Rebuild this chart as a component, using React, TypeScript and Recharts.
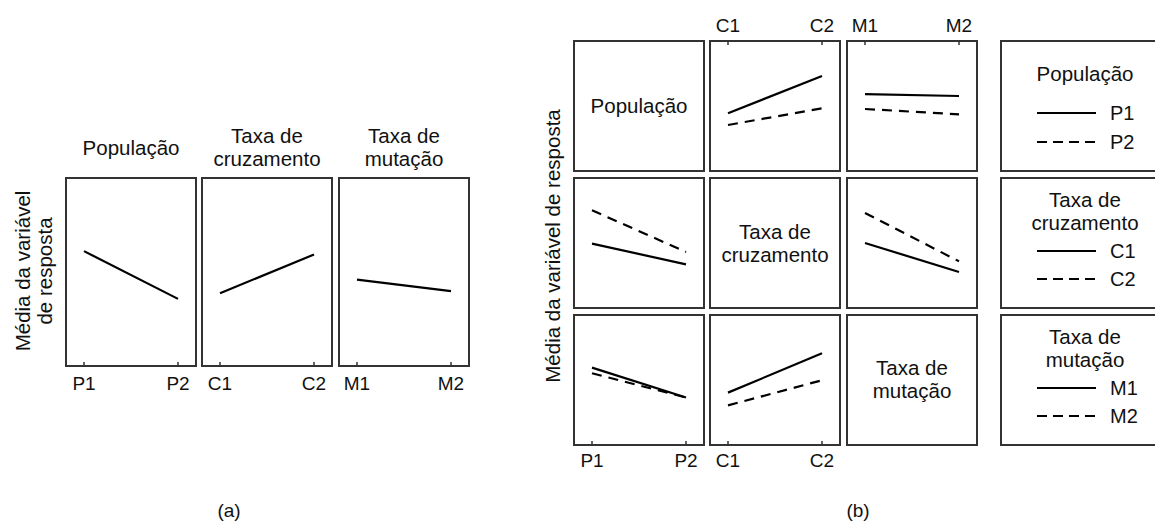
import React from 'react';
import { LineChart, Line, XAxis, YAxis } from 'recharts';

// ---------- data ----------
const popLevels = ['P1', 'P2'];
const crossLevels = ['C1', 'C2'];
const mutLevels = ['M1', 'M2'];

// (a) main effects
const mainPop = [61.1, 35.7];
const mainCross = [38.7, 59.3];
const mainMut = [45.9, 39.8];

// (b) interactions  (row = trace factor, column = x factor)
const crossByPop_P1 = [44.4, 73.1];
const crossByPop_P2 = [35.4, 48.2];
const mutByPop_P1 = [59.2, 57.7];
const mutByPop_P2 = [47.7, 43.6];
const popByCross_C1 = [49.5, 33.6];
const popByCross_C2 = [75.2, 43.1];
const mutByCross_C1 = [50.0, 27.7];
const mutByCross_C2 = [73.1, 35.9];
const popByMut_M1 = [59.5, 36.5];
const popByMut_M2 = [55.2, 36.5];
const crossByMut_M1 = [40.3, 70.5];
const crossByMut_M2 = [30.5, 49.8];

const titlePop = ['População'];
const titleCross = ['Taxa de', 'cruzamento'];
const titleMut = ['Taxa de', 'mutação'];
const yLabel = 'Média da variável de resposta';

// ---------- style ----------
const FONT = '"Liberation Sans", Arial, Helvetica, sans-serif';
const INK = '#111';
const FRAME = '#333';
const TITLE_SIZE = 20.5;

type CellProps = {
  left: number; top: number; w: number; h: number;
  levels: string[]; solid: number[]; dashed?: number[];
  showTop?: boolean; showBottom?: boolean; tickMargin?: number;
};

function PlotCell({ left, top, w, h, levels, solid, dashed, showTop, showBottom, tickMargin = 13 }: CellProps) {
  const padX = 30;
  const padY = 40;
  const ext = 18 / (w - 36);
  const data = levels.map((_, i) => ({ x: i + 1, s: solid[i], d: dashed ? dashed[i] : null }));
  const fmt = (v: number) => levels[Math.round(v) - 1] ?? '';
  const tickStyle = { fill: INK, fontSize: 19, fontFamily: FONT };
  const common = {
    type: 'number' as const,
    dataKey: 'x',
    domain: [1 - ext, levels.length + ext],
    allowDataOverflow: true,
    ticks: [1, 2],
    interval: 0 as const,
    height: 1,
    axisLine: false,
    tickLine: { stroke: FRAME, strokeWidth: 1.5 },
    tickSize: -4,
    tickMargin,
    tickFormatter: fmt,
  };
  return (
    <>
      <div style={{ position: 'absolute', left: left - 1, top: top - 1, width: w + 2, height: h + 2, border: `2px solid ${FRAME}`, boxSizing: 'border-box' }} />
      <div style={{ position: 'absolute', left: left - padX, top: top - padY }}>
        <LineChart width={w + 2 * padX} height={h + 2 * padY} data={data} margin={{ top: padY - 1, right: padX, bottom: padY - 1, left: padX }}>
          <XAxis xAxisId="b" orientation="bottom" {...common} tick={showBottom ? tickStyle : false} />
          <XAxis xAxisId="t" orientation="top" {...common} tick={showTop ? tickStyle : false} />
          <YAxis yAxisId="v" hide width={0} type="number" domain={[0, 100]} allowDataOverflow />
          <Line xAxisId="b" yAxisId="v" type="linear" dataKey="s" stroke="#000" strokeWidth={2.2} dot={false} isAnimationActive={false} />
          {dashed && (
            <Line xAxisId="b" yAxisId="v" type="linear" dataKey="d" stroke="#000" strokeWidth={2.2} strokeDasharray="10 7" dot={false} isAnimationActive={false} />
          )}
        </LineChart>
      </div>
    </>
  );
}

function TextBlock({ x, y, lines, size = TITLE_SIZE, lh = 23 }: { x: number; y: number; lines: string[]; size?: number; lh?: number }) {
  return (
    <div style={{ position: 'absolute', left: x, top: y, transform: 'translate(-50%, -50%)', textAlign: 'center', fontSize: size, lineHeight: `${lh}px`, whiteSpace: 'nowrap', color: INK }}>
      {lines.map((l, i) => <div key={i}>{l}</div>)}
    </div>
  );
}

function Frame({ left, top, w, h, children }: { left: number; top: number; w: number; h: number; children?: React.ReactNode }) {
  return (
    <div style={{ position: 'absolute', left: left - 1, top: top - 1, width: w + 2, height: h + 2, border: `2px solid ${FRAME}`, boxSizing: 'border-box' }}>
      {children}
    </div>
  );
}

function LegendBox({ top, title, levels }: { top: number; title: string[]; levels: string[] }) {
  const left = 1001;
  const cx = 1085;
  const titleY = title.length === 1 ? top + 32 : top + 33;
  const firstY = title.length === 1 ? top + 72 : top + 72.5;
  return (
    <>
      <Frame left={left} top={top} w={200} h={130} />
      <TextBlock x={cx} y={titleY} lines={title} />
      {levels.map((lv, i) => {
        const y = firstY + i * 28.5;
        return (
          <React.Fragment key={lv}>
            <svg style={{ position: 'absolute', left: 1036, top: y - 3 }} width={62} height={6}>
              <line x1={1} y1={3} x2={60} y2={3} stroke="#000" strokeWidth={2.2} strokeDasharray={i === 1 ? '10 6' : undefined} />
            </svg>
            <div style={{ position: 'absolute', left: 1110, top: y, transform: 'translateY(-50%)', fontSize: 20, color: INK, whiteSpace: 'nowrap' }}>{lv}</div>
          </React.Fragment>
        );
      })}
    </>
  );
}

export default function App() {
  // (a) layout
  const aTop = 177.5, aH = 188, aW = 130;
  const aLefts = [66, 202, 339];
  // (b) layout
  const bLefts = [574, 710, 847];
  const bTops = [41, 178, 315];
  const S = 130;

  return (
    <div style={{ position: 'fixed', left: 0, top: 0, width: 1155, height: 523, overflow: 'hidden', background: '#fff', fontFamily: FONT, color: INK }}>
      {/* ---------- (a) ---------- */}
      <TextBlock x={aLefts[0] + aW / 2} y={147} lines={titlePop} />
      <TextBlock x={aLefts[1] + aW / 2} y={146.5} lines={titleCross} />
      <TextBlock x={aLefts[2] + aW / 2} y={146.5} lines={titleMut} />
      <div style={{ position: 'absolute', left: 34, top: 271, transform: 'translate(-50%, -50%) rotate(-90deg)', textAlign: 'center', fontSize: TITLE_SIZE, lineHeight: '22px', whiteSpace: 'nowrap' }}>
        <div>Média da variável</div>
        <div>de resposta</div>
      </div>
      <PlotCell left={aLefts[0]} top={aTop} w={aW} h={aH} levels={popLevels} solid={mainPop} showBottom tickMargin={15} />
      <PlotCell left={aLefts[1]} top={aTop} w={aW} h={aH} levels={crossLevels} solid={mainCross} showBottom tickMargin={15} />
      <PlotCell left={aLefts[2]} top={aTop} w={aW} h={aH} levels={mutLevels} solid={mainMut} showBottom tickMargin={15} />
      <TextBlock x={229} y={510} lines={['(a)']} size={19} />

      {/* ---------- (b) ---------- */}
      <div style={{ position: 'absolute', left: 553, top: 246, transform: 'translate(-50%, -50%) rotate(-90deg)', fontSize: TITLE_SIZE, whiteSpace: 'nowrap' }}>{yLabel}</div>

      {/* row 1 : População */}
      <Frame left={bLefts[0]} top={bTops[0]} w={S} h={S} />
      <TextBlock x={bLefts[0] + S / 2} y={bTops[0] + 64} lines={titlePop} />
      <PlotCell left={bLefts[1]} top={bTops[0]} w={S} h={S} levels={crossLevels} solid={crossByPop_P1} dashed={crossByPop_P2} showTop />
      <PlotCell left={bLefts[2]} top={bTops[0]} w={S} h={S} levels={mutLevels} solid={mutByPop_P1} dashed={mutByPop_P2} showTop />

      {/* row 2 : Taxa de cruzamento */}
      <PlotCell left={bLefts[0]} top={bTops[1]} w={S} h={S} levels={popLevels} solid={popByCross_C1} dashed={popByCross_C2} />
      <Frame left={bLefts[1]} top={bTops[1]} w={S} h={S} />
      <TextBlock x={bLefts[1] + S / 2} y={bTops[1] + 65} lines={titleCross} />
      <PlotCell left={bLefts[2]} top={bTops[1]} w={S} h={S} levels={mutLevels} solid={mutByCross_C1} dashed={mutByCross_C2} />

      {/* row 3 : Taxa de mutação */}
      <PlotCell left={bLefts[0]} top={bTops[2]} w={S} h={S} levels={popLevels} solid={popByMut_M1} dashed={popByMut_M2} showBottom />
      <PlotCell left={bLefts[1]} top={bTops[2]} w={S} h={S} levels={crossLevels} solid={crossByMut_M1} dashed={crossByMut_M2} showBottom />
      <Frame left={bLefts[2]} top={bTops[2]} w={S} h={S} />
      <TextBlock x={bLefts[2] + S / 2} y={bTops[2] + 64} lines={titleMut} />

      {/* legends */}
      <LegendBox top={bTops[0]} title={titlePop} levels={popLevels} />
      <LegendBox top={bTops[1]} title={titleCross} levels={crossLevels} />
      <LegendBox top={bTops[2]} title={titleMut} levels={mutLevels} />

      <TextBlock x={858} y={510} lines={['(b)']} size={19} />
    </div>
  );
}
